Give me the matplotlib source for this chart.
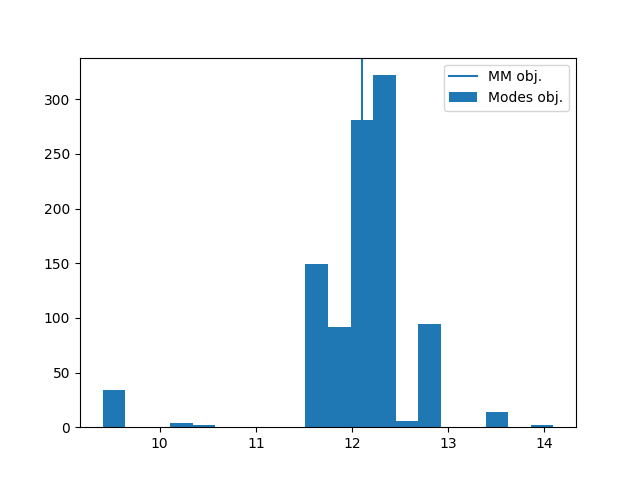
import numpy as np
import matplotlib
matplotlib.use("Agg")
import matplotlib.pyplot as plt

x_min = 9.406
x_max = 14.094
counts = [34, 0, 0, 4, 2, 0, 0, 0, 0, 149, 92, 281, 322, 6, 94, 0, 0, 14, 0, 2]
mm_value = 12.1

edges = np.linspace(x_min, x_max, len(counts) + 1)
centers = (edges[:-1] + edges[1:]) / 2

fig, ax = plt.subplots(figsize=(6.4, 4.8), dpi=100)
ax.axvline(mm_value, label="MM obj.")
ax.hist(centers, bins=edges, weights=counts, label="Modes obj.")
ax.legend(loc="upper right")
fig.savefig("out.png")
